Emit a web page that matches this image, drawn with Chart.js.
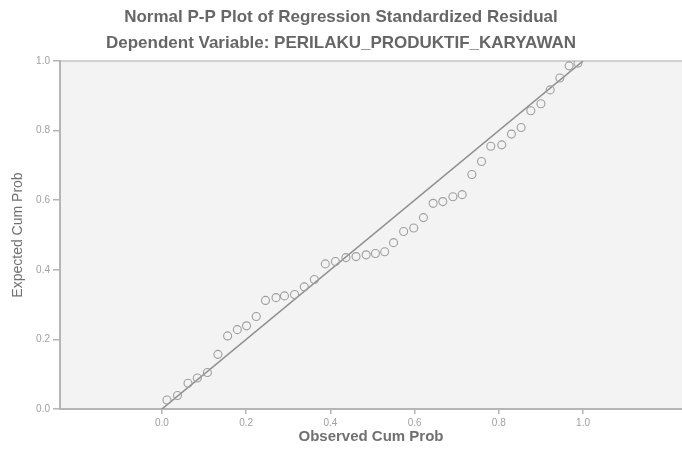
<!DOCTYPE html>
<html lang="en">
<head>
  <meta charset="UTF-8" />
  <title>Normal P-P Plot</title>
  <script src="https://cdn.jsdelivr.net/npm/chart.js"></script>
  <style>
    html, body { margin: 0; padding: 0; background: #ffffff; }
    #wrap { width: 682px; height: 450px; }
  </style>
</head>
<body>
<div id="wrap"><canvas id="ppChart" width="682" height="450"></canvas></div>
<script>
  // observed vs expected cumulative probability
  const observedCum = [0.012, 0.037, 0.062, 0.084, 0.108, 0.133, 0.156, 0.179, 0.201, 0.224,
    0.246, 0.271, 0.291, 0.315, 0.338, 0.362, 0.388, 0.412, 0.437, 0.461,
    0.485, 0.507, 0.529, 0.550, 0.574, 0.598, 0.621, 0.644, 0.667, 0.691,
    0.713, 0.736, 0.759, 0.781, 0.807, 0.830, 0.853, 0.876, 0.900, 0.922,
    0.945, 0.967, 0.988];
  const expectedCum = [0.026, 0.039, 0.074, 0.089, 0.105, 0.157, 0.210, 0.228, 0.239, 0.266,
    0.312, 0.320, 0.325, 0.329, 0.351, 0.372, 0.417, 0.424, 0.435, 0.438,
    0.443, 0.447, 0.452, 0.478, 0.510, 0.520, 0.550, 0.591, 0.596, 0.610,
    0.616, 0.674, 0.711, 0.755, 0.759, 0.790, 0.809, 0.857, 0.877, 0.917,
    0.951, 0.986, 0.994];
  const diagX = [0, 1];
  const diagY = [0, 1];
  const tickValues = [0, 0.2, 0.4, 0.6, 0.8, 1.0];

  const points = observedCum.map((x, i) => ({ x: x, y: expectedCum[i] }));
  const diagonal = diagX.map((x, i) => ({ x: x, y: diagY[i] }));

  // grey plot background + top frame line
  const plotBg = {
    id: 'plotBg',
    beforeDraw(chart) {
      const a = chart.chartArea, c = chart.ctx;
      c.save();
      c.fillStyle = '#f3f3f3';
      c.fillRect(a.left, a.top, a.right - a.left, a.bottom - a.top);
      c.strokeStyle = '#c4c4c4';
      c.lineWidth = 1.5;
      c.beginPath();
      c.moveTo(a.left, a.top);
      c.lineTo(a.right, a.top);
      c.stroke();
      c.restore();
    }
  };

  const fixedTicks = (scale) => {
    scale.ticks = tickValues.map(v => ({ value: v }));
  };

  new Chart(document.getElementById('ppChart'), {
    type: 'scatter',
    data: {
      datasets: [
        {
          data: diagonal,
          showLine: true,
          borderColor: '#8f8f8f',
          borderWidth: 1.6,
          pointRadius: 0,
          fill: false,
          order: 2
        },
        {
          data: points,
          pointStyle: 'circle',
          pointRadius: 4,
          pointBorderWidth: 1.1,
          pointBorderColor: '#9e9e9e',
          pointBackgroundColor: 'rgba(0,0,0,0)',
          order: 1
        }
      ]
    },
    options: {
      responsive: false,
      animation: false,
      layout: { padding: 0, autoPadding: false },
      plugins: {
        legend: { display: false },
        tooltip: { enabled: false },
        title: {
          display: true,
          text: ['Normal P-P Plot of Regression Standardized Residual',
                 'Dependent Variable: PERILAKU_PRODUKTIF_KARYAWAN'],
          color: '#666666',
          font: { family: 'Liberation Sans, Arial, sans-serif', size: 17, weight: 'bold', lineHeight: 1.5294 },
          padding: { top: 4, bottom: 5 }
        }
      },
      scales: {
        x: {
          type: 'linear',
          min: -0.242,
          max: 1.235,
          afterBuildTicks: fixedTicks,
          afterFit(scale) { scale.height = 41; },
          grid: { drawOnChartArea: false, drawTicks: true, tickLength: 5, color: '#b5b5b5', lineWidth: 1.5 },
          border: { color: '#b5b5b5', width: 2 },
          ticks: {
            color: '#a0a0a0',
            padding: 3,
            font: { family: 'Liberation Sans, Arial, sans-serif', size: 10 },
            callback: v => Number(v).toFixed(1)
          },
          title: {
            display: true,
            text: 'Observed Cum Prob',
            color: '#707070',
            font: { family: 'Liberation Sans, Arial, sans-serif', size: 15, weight: 'bold', lineHeight: 1.2 },
            padding: { top: 0, bottom: 4 }
          }
        },
        y: {
          type: 'linear',
          min: 0,
          max: 1,
          afterBuildTicks: fixedTicks,
          afterFit(scale) { scale.width = 60; },
          grid: { drawOnChartArea: false, drawTicks: true, tickLength: 7, color: '#b5b5b5', lineWidth: 1.5 },
          border: { color: '#b5b5b5', width: 2 },
          ticks: {
            color: '#a0a0a0',
            padding: 3,
            font: { family: 'Liberation Sans, Arial, sans-serif', size: 10 },
            callback: v => Number(v).toFixed(1)
          },
          title: {
            display: true,
            text: 'Expected Cum Prob',
            color: '#707070',
            font: { family: 'Liberation Sans, Arial, sans-serif', size: 14, lineHeight: 1.2 },
            padding: { top: 10, bottom: 0 }
          }
        }
      }
    },
    plugins: [plotBg]
  });
</script>
</body>
</html>
